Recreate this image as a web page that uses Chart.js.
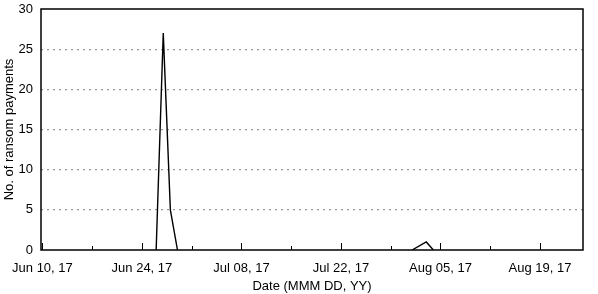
<!DOCTYPE html>
<html>
<head>
<meta charset="utf-8">
<script src="https://cdn.jsdelivr.net/npm/chart.js@4"></script>
<style>
  body { margin: 0; background: #fff; }
</style>
</head>
<body>
<canvas id="chart" width="598" height="294"></canvas>
<script>
// days with recorded payments (null = no data, leaves a gap)
var dates = ['2017-06-26', '2017-06-27', '2017-06-28', '2017-06-29', '2017-07-15', '2017-08-01', '2017-08-03', '2017-08-04'];
var payments = [0, 27, 5, 0, null, 0, 1, 0];

var startDate = '2017-06-10';
var tickDays = [0, 7, 14, 21, 28, 35, 42, 49, 56, 63, 70];
var tickLabels = ['Jun 10, 17', 'Jun 24, 17', 'Jul 08, 17', 'Jul 22, 17', 'Aug 05, 17', 'Aug 19, 17'];
var yTicks = [0, 5, 10, 15, 20, 25, 30];

function dayOf(d) {
    return (Date.parse(d) - Date.parse(startDate)) / 86400000;
}

var points = dates.map(function (d, i) {
    return { x: dayOf(d), y: payments[i] };
});

var font = { family: '"Liberation Sans", Arial, sans-serif', size: 13 };

// inward tick marks on the x axis + frame around the plot
var frame = {
    id: 'frame',
    afterDraw: function (chart) {
        var c = chart.ctx, a = chart.chartArea, x = chart.scales.x;
        c.save();
        c.strokeStyle = '#000';
        c.lineWidth = 1;
        x.ticks.forEach(function (t, i) {
            var px = Math.round(x.getPixelForValue(t.value)) + 0.5;
            var len = (i % 2 == 0) ? 7 : 4;
            c.beginPath();
            c.moveTo(px, a.bottom);
            c.lineTo(px, a.bottom - len);
            c.stroke();
        });
        c.lineWidth = 1.5;
        c.strokeRect(a.left, a.top, a.right - a.left, a.bottom - a.top);
        c.restore();
    }
};

var ctx = document.getElementById('chart').getContext('2d');
var chart = new Chart(ctx, {
    type: 'line',
    data: {
        datasets: [{
            label: 'Ransom payments',
            data: points,
            borderColor: '#000',
            borderWidth: 1.4,
            pointRadius: 0,
            tension: 0,
            spanGaps: false
        }]
    },
    options: {
        responsive: false,
        animation: false,
        layout: { padding: { top: 9, right: 15, left: 0, bottom: 0 } },
        plugins: {
            legend: { display: false },
            tooltip: { enabled: false }
        },
        scales: {
            x: {
                type: 'linear',
                min: -0.2,
                max: 76.05,
                afterBuildTicks: function (scale) {
                    scale.ticks = tickDays.map(function (v) { return { value: v }; });
                },
                afterFit: function (scale) {
                    scale.height = 44;
                    scale.paddingLeft = 0;
                    scale.paddingRight = 0;
                },
                grid: { display: false },
                border: { display: false },
                ticks: {
                    autoSkip: false,
                    maxRotation: 0,
                    padding: 3,
                    color: '#000',
                    font: font,
                    callback: function (v, i) {
                        return i % 2 == 0 ? tickLabels[i / 2] : '';
                    }
                },
                title: {
                    display: true,
                    text: 'Date (MMM DD, YY)',
                    color: '#000',
                    font: font,
                    padding: { top: 2, bottom: 0 }
                }
            },
            y: {
                min: 0,
                max: 30,
                afterBuildTicks: function (scale) {
                    scale.ticks = yTicks.map(function (v) { return { value: v }; });
                },
                afterFit: function (scale) {
                    scale.width = 41;
                    scale.paddingTop = 0;
                    scale.paddingBottom = 0;
                },
                grid: {
                    drawTicks: false,
                    lineWidth: 1.2,
                    color: function (c) {
                        return (c.tick && (c.tick.value == 0 || c.tick.value == 30)) ? 'rgba(0,0,0,0)' : '#999';
                    }
                },
                border: { display: false, dash: [2, 4] },
                ticks: {
                    padding: 8,
                    color: '#000',
                    font: font
                },
                title: {
                    display: true,
                    text: 'No. of ransom payments',
                    color: '#000',
                    font: font,
                    padding: { top: 2, bottom: 2 }
                }
            }
        }
    },
    plugins: [frame]
});
</script>
</body>
</html>
